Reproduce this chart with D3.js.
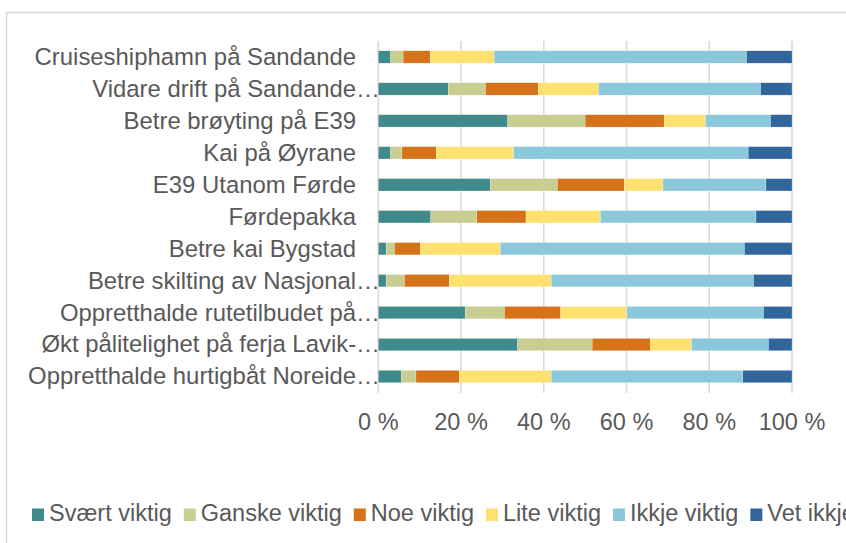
<!DOCTYPE html>
<html>
<head>
<meta charset="utf-8">
<script src="https://cdn.jsdelivr.net/npm/d3@7"></script>
<style>
  body { margin: 0; background: #fff; }
  text { font-family: "Liberation Sans", Arial, sans-serif; fill: #595959; }
</style>
</head>
<body>
<svg id="chart" width="846" height="543"></svg>
<script>
// categories, top to bottom as shown
const categories = [
  "Cruiseshiphamn på Sandande",
  "Vidare drift på Sandande…",
  "Betre brøyting på E39",
  "Kai på Øyrane",
  "E39 Utanom Førde",
  "Førdepakka",
  "Betre kai Bygstad",
  "Betre skilting av Nasjonal…",
  "Oppretthalde rutetilbudet på…",
  "Økt pålitelighet på ferja Lavik-…",
  "Oppretthalde hurtigbåt Noreide…"
];

const seriesNames = ["Svært viktig", "Ganske viktig", "Noe viktig", "Lite viktig", "Ikkje viktig", "Vet ikkje"];
const seriesColors = ["#418A8C", "#C8CD91", "#D5731B", "#FFE172", "#8BC8DB", "#32669A"];

// percentages per series, same order as categories
const svaertViktig  = [3.0, 16.9, 31.3, 3.0, 27.1, 12.7, 1.9, 1.9, 21.0, 33.7, 5.6];
const ganskeViktig  = [3.0,  9.0, 18.7, 2.7, 16.2, 11.1, 2.0, 4.4,  9.5, 18.0, 3.5];
const noeViktig     = [6.6, 12.8, 19.1, 8.3, 16.2, 11.9, 6.3, 10.9, 13.6, 14.1, 10.5];
const liteViktig    = [15.4, 14.5, 10.0, 18.7, 9.3, 18.0, 19.3, 24.6, 16.0, 9.9, 22.2];
const ikkjeViktig   = [61.0, 39.2, 15.7, 56.7, 24.9, 37.6, 59.0, 48.9, 33.0, 18.6, 46.3];
const vetIkkje      = [11.0, 7.6, 5.2, 10.6, 6.3, 8.7, 11.5, 9.3, 6.9, 5.7, 11.9];

const xTicks = [0, 20, 40, 60, 80, 100];

const seriesValues = [svaertViktig, ganskeViktig, noeViktig, liteViktig, ikkjeViktig, vetIkkje];

// build rows for the stack layout (normalised to 100 %)
const rows = categories.map((c, i) => {
  const row = { category: c };
  const total = d3.sum(seriesValues, s => s[i]);
  seriesNames.forEach((name, j) => { row[name] = seriesValues[j][i] / total * 100; });
  return row;
});

const svg = d3.select("#chart");
const fontSize = 23.5;
const labelSize = 23.9;

// chart frame
svg.append("rect")
  .attr("x", 6.5).attr("y", 12.5)
  .attr("width", 900).attr("height", 600)
  .attr("fill", "none")
  .attr("stroke", "#D9D9D9")
  .attr("stroke-width", 1.5);

const x = d3.scaleLinear().domain([0, 100]).range([378.3, 792]);
const y = d3.scaleBand().domain(categories).range([41, 392.5])
  .paddingInner(0.612).paddingOuter(0.306);

// gridlines
svg.append("g")
  .selectAll("line")
  .data(xTicks)
  .join("line")
  .attr("x1", d => x(d)).attr("x2", d => x(d))
  .attr("y1", 41).attr("y2", 393)
  .attr("stroke", "#D9D9D9")
  .attr("stroke-width", 1.6);

// x tick labels
svg.append("g")
  .selectAll("text")
  .data(xTicks)
  .join("text")
  .attr("x", d => x(d))
  .attr("y", 430)
  .attr("text-anchor", "middle")
  .style("font-size", fontSize + "px")
  .text(d => d + " %");

// stacked bars
const stack = d3.stack().keys(seriesNames);
const layers = stack(rows);

const color = d3.scaleOrdinal().domain(seriesNames).range(seriesColors);

svg.append("g")
  .selectAll("g")
  .data(layers)
  .join("g")
  .attr("fill", d => color(d.key))
  .selectAll("rect")
  .data(d => d)
  .join("rect")
  .attr("x", d => x(d[0]))
  .attr("width", d => x(d[1]) - x(d[0]))
  .attr("y", d => y(d.data.category))
  .attr("height", y.bandwidth())
  .attr("stroke", "#fff")
  .attr("stroke-width", 0.4)
  .attr("stroke-opacity", 0.6);

// category labels
svg.append("g")
  .selectAll("text")
  .data(categories)
  .join("text")
  .attr("x", d => d.endsWith("…") ? 380 : 356)
  .attr("y", d => y(d) + y.bandwidth() / 2)
  .attr("dy", "0.33em")
  .attr("text-anchor", "end")
  .style("font-size", labelSize + "px")
  .text(d => d);

// legend, laid out left to right
const legend = svg.append("g");
let lx = 32;
seriesNames.forEach((name, i) => {
  legend.append("rect")
    .attr("x", lx).attr("y", 508.5)
    .attr("width", 12).attr("height", 12.5)
    .attr("fill", seriesColors[i]);
  const t = legend.append("text")
    .attr("x", lx + 17)
    .attr("y", 521)
    .style("font-size", fontSize + "px")
    .text(name);
  lx += 17 + t.node().getComputedTextLength() + 12;
});
</script>
</body>
</html>
